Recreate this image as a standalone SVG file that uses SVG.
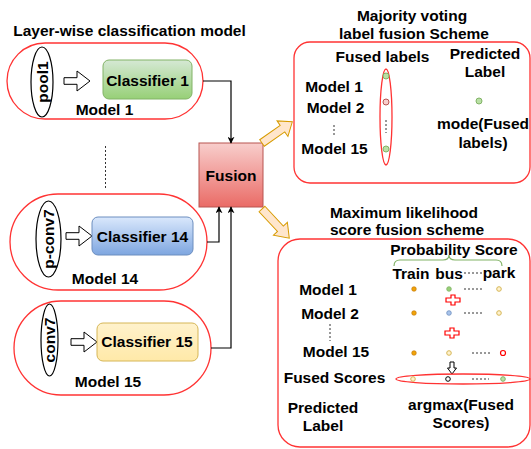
<svg xmlns="http://www.w3.org/2000/svg" width="531" height="449" viewBox="0 0 531 449">
<defs>
<linearGradient id="gGreen" x1="0" y1="0" x2="0" y2="1"><stop offset="0" stop-color="#d5e8d4"/><stop offset="1" stop-color="#97d077"/></linearGradient>
<linearGradient id="gBlue" x1="0" y1="0" x2="0" y2="1"><stop offset="0" stop-color="#dae8fc"/><stop offset="1" stop-color="#7ea6e0"/></linearGradient>
<linearGradient id="gYellow" x1="0" y1="0" x2="0" y2="1"><stop offset="0" stop-color="#fff2cc"/><stop offset="1" stop-color="#ffe9a8"/></linearGradient>
<linearGradient id="gRed" x1="0" y1="0" x2="0" y2="1"><stop offset="0" stop-color="#f8cecc"/><stop offset="1" stop-color="#ea6b66"/></linearGradient>
<marker id="ah" viewBox="0 0 10 10" refX="9" refY="5" markerWidth="7" markerHeight="7" orient="auto" markerUnits="userSpaceOnUse">
<path d="M0,0 L10,5 L0,10 L3,5 Z" fill="#000"/>
</marker>
<path id="blk" d="M0,-3.3 H13 V-10 L26,0 L13,10 V3.3 H0 Z"/>
<path id="plus" d="M-2,-5 H2 V-2 H7 V2 H2 V5 H-2 V2 H-7 V-2 H-2 Z"/>
</defs>
<style>
text{font-family:"Liberation Sans",Arial,Helvetica,sans-serif;font-weight:bold;font-size:15.5px;fill:#000;text-anchor:middle}
.model{fill:#fff;stroke:#ff3333;stroke-width:1.3}
.red{fill:none;stroke:#ff3333;stroke-width:1.3}
.ell{fill:#fff;stroke:#000;stroke-width:1.2}
.blk{fill:#fff;stroke:#000;stroke-width:1}
.conn{fill:none;stroke:#000;stroke-width:1.2}
.dot{fill:none;stroke:#333;stroke-width:1;stroke-dasharray:2,2}
.fat{fill:#ffe6cc;stroke:#d79b00;stroke-width:1}
.plus{fill:#fff;stroke:#ff0000;stroke-width:1.2}
</style>

<text x="129.5" y="35.5">Layer-wise classification model</text>

<g id="model1">
<rect class="model" x="7" y="43" width="196" height="76" rx="38"/>
<ellipse class="ell" cx="42" cy="82" rx="11" ry="35"/>
<text transform="translate(47.5,82) rotate(-90)">pool1</text>
<use href="#blk" class="blk" x="64" y="81"/>
<rect x="103" y="60" width="89" height="39" rx="6" fill="url(#gGreen)" stroke="#82b366"/>
<text x="147.5" y="86">Classifier 1</text>
<text x="104.5" y="115">Model 1</text>
</g>

<line class="dot" x1="105.5" y1="146" x2="105.5" y2="188"/>

<g id="model14">
<rect class="model" x="10" y="194" width="197" height="96" rx="48"/>
<ellipse class="ell" cx="48.5" cy="239" rx="12.5" ry="38"/>
<text transform="translate(54,239) rotate(-90)">p-conv7</text>
<use href="#blk" class="blk" x="66" y="236"/>
<rect x="92" y="217" width="101" height="38" rx="6" fill="url(#gBlue)" stroke="#6c8ebf"/>
<text x="142.5" y="241.5">Classifier 14</text>
<text x="105" y="284">Model 14</text>
</g>

<g id="model15">
<rect class="model" x="14" y="301" width="197" height="94" rx="47"/>
<ellipse class="ell" cx="49.5" cy="340" rx="8.5" ry="36"/>
<text transform="translate(55,340) rotate(-90)">conv7</text>
<use href="#blk" class="blk" x="71" y="342"/>
<rect x="97" y="323" width="101" height="38" rx="6" fill="url(#gYellow)" stroke="#d6b656"/>
<text x="147" y="347">Classifier 15</text>
<text x="108" y="387">Model 15</text>
</g>

<g id="fusion">
<rect x="199" y="143" width="64" height="64" fill="url(#gRed)" stroke="#b85450"/>
<text x="231" y="181">Fusion</text>
</g>

<g id="connectors">
<path class="conn" d="M203,81 H231 V143" marker-end="url(#ah)"/>
<path class="conn" d="M207,242 H219 V207" marker-end="url(#ah)" stroke="#333"/>
<path class="conn" d="M211,348 H231 V207" marker-end="url(#ah)"/>
<path class="fat" transform="translate(262,143) rotate(-35)" d="M0,-4 H25 V-9.5 L37,0 L25,9.5 V4 H0 Z"/>
<path class="fat" transform="translate(262,209) rotate(47)" d="M0,-4 H27 V-9.5 L40,0 L27,9.5 V4 H0 Z"/>
</g>

<g id="majority">
<text x="412" y="21">Majority voting</text>
<text x="414" y="39">label fusion Scheme</text>
<rect class="model" x="294" y="42" width="236" height="141" rx="16"/>
<text x="382.5" y="62">Fused labels</text>
<text x="485" y="59">Predicted</text>
<text x="485" y="77">Label</text>
<text x="334" y="92">Model 1</text>
<text x="335.5" y="113">Model 2</text>
<line class="dot" x1="334" y1="125" x2="334" y2="137"/>
<text x="334.5" y="154">Model 15</text>
<ellipse class="red" cx="386" cy="117" rx="6" ry="48"/>
<circle cx="386" cy="76" r="3" fill="#b9e0a5" stroke="#82b366"/>
<circle cx="386" cy="102" r="3" fill="#f8cecc" stroke="#b85450"/>
<line class="dot" x1="386" y1="120" x2="386" y2="133" stroke-dasharray="1,2"/>
<circle cx="386" cy="149" r="3" fill="#b9e0a5" stroke="#82b366"/>
<circle cx="479" cy="101" r="3" fill="#b9e0a5" stroke="#82b366"/>
<text x="483" y="129">mode(Fused</text>
<text x="483" y="148">labels)</text>
</g>

<g id="likelihood">
<text x="404" y="218">Maximum likelihood</text>
<text x="407" y="235">score fusion scheme</text>
<rect class="model" x="278" y="239" width="252" height="208" rx="22"/>
<text x="454" y="255">Probability Score</text>
<path d="M394,266 Q394,260 400,260 H443 Q449,260 449,255 Q449,260 455,260 H496 Q502,260 502,266" fill="none" stroke="#82b366" stroke-width="1.2"/>
<text x="411" y="279">Train</text>
<text x="449" y="279">bus</text>
<text x="499" y="278">park</text>
<line class="dot" x1="464" y1="273" x2="483" y2="273"/>

<text x="328" y="295">Model 1</text>
<text x="330" y="319">Model 2</text>
<line class="dot" x1="330" y1="324" x2="330" y2="341"/>
<text x="336" y="357">Model 15</text>
<text x="334.5" y="383">Fused Scores</text>
<text x="323" y="413">Predicted</text>
<text x="323" y="431">Label</text>

<circle cx="414" cy="289" r="2.3" fill="#f0a30a" stroke="#bd7000" stroke-width="0.6"/>
<circle cx="449" cy="289" r="2.3" fill="#97d077" stroke="#82b366" stroke-width="0.8"/>
<line class="dot" x1="464" y1="289" x2="483" y2="289"/>
<circle cx="499" cy="289" r="2.3" fill="#fff2cc" stroke="#d6b656" stroke-width="1"/>
<use href="#plus" class="plus" x="453" y="300"/>

<circle cx="414" cy="313" r="2.3" fill="#f0a30a" stroke="#bd7000" stroke-width="0.6"/>
<circle cx="449" cy="313" r="2.3" fill="#a9c4eb" stroke="#6c8ebf" stroke-width="0.8"/>
<line class="dot" x1="464" y1="313" x2="483" y2="313"/>
<circle cx="499" cy="313" r="2.3" fill="#fff2cc" stroke="#d6b656" stroke-width="1"/>
<use href="#plus" class="plus" x="452" y="333"/>

<circle cx="414" cy="353" r="2.3" fill="#f0a30a" stroke="#bd7000" stroke-width="0.6"/>
<circle cx="449" cy="353" r="2.3" fill="#fff2cc" stroke="#d6b656" stroke-width="1"/>
<line class="dot" x1="472" y1="353" x2="490" y2="353"/>
<circle cx="503" cy="353" r="2.5" fill="#fff" stroke="#ff0000" stroke-width="1.2"/>

<path class="blk" d="M450,362 H454 V368 H456.5 L452,374 L447.5,368 H450 Z"/>

<ellipse class="red" cx="463" cy="379" rx="67" ry="5"/>
<circle cx="413" cy="379" r="2.3" fill="#fff2cc" stroke="#d6b656" stroke-width="1"/>
<circle cx="448" cy="379" r="2.3" fill="#fff" stroke="#000" stroke-width="1"/>
<line class="dot" x1="472" y1="379" x2="489" y2="379"/>
<circle cx="503" cy="379" r="2.3" fill="#b9e0a5" stroke="#82b366" stroke-width="1"/>

<text x="461" y="410">argmax(Fused</text>
<text x="461" y="428">Scores)</text>
</g>
</svg>
